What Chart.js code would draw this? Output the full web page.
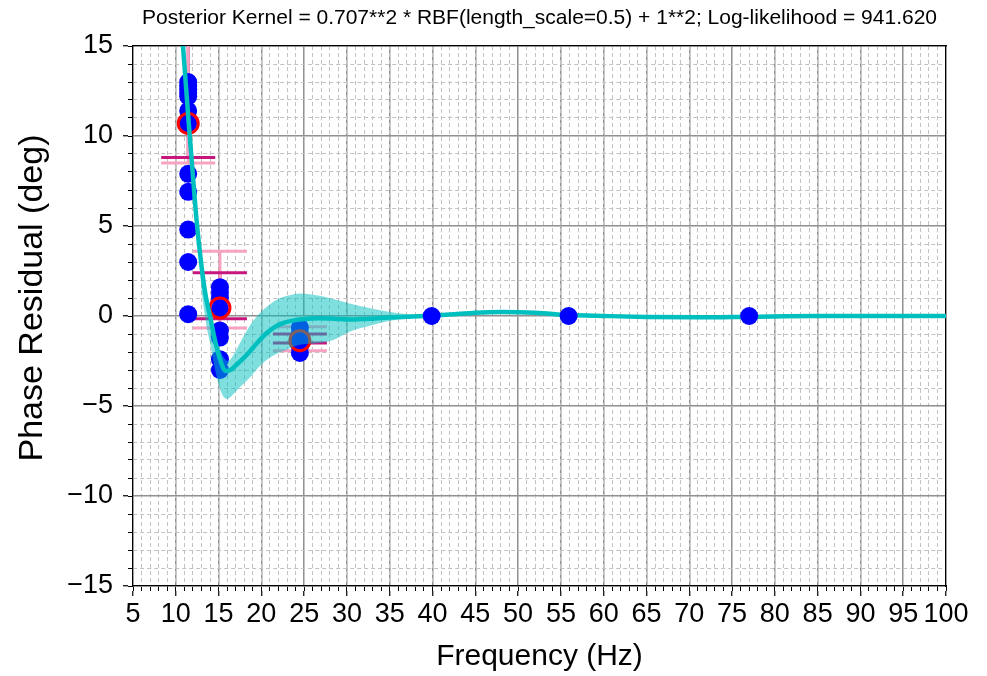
<!DOCTYPE html>
<html>
<head>
<meta charset="utf-8">
<script src="https://cdn.jsdelivr.net/npm/chart.js@4.4.1/dist/chart.umd.min.js"></script>
<style>
  html, body { margin: 0; padding: 0; background: #fff; }
  #wrap { width: 987px; height: 676px; }
</style>
</head>
<body>
<div id="wrap"><canvas id="chart" width="987" height="676"></canvas></div>
<script>
// measured residuals (blue dots)
const obsFreq  = [11.45, 11.45, 11.45, 11.45, 11.45, 11.45, 11.45, 11.45, 11.45, 11.45, 11.45, 11.45,
                  15.16, 15.16, 15.16, 15.16, 15.16, 15.16, 15.16, 15.16,
                  24.5, 24.5, 24.5, 24.5, 24.5];
const obsPhase = [13.0, 12.8, 12.6, 12.4, 12.2, 11.4, 10.7, 7.9, 6.9, 4.8, 3.0, 0.1,
                  1.6, 1.3, 1.0, 0.4, -0.8, -1.2, -2.4, -3.0,
                  -0.65, -1.0, -1.35, -1.7, -2.05];
const farFreq  = [39.9, 55.9, 77.0];
const farPhase = [0, 0, 0];

// per-frequency means (red circles) and error bars
const meanFreq  = [11.45, 15.16, 24.5];
const meanPhase = [10.7, 0.45, -1.37];
const pinkLow   = [8.5, -0.67, -1.93];
const pinkHigh  = [17.0, 3.6, -0.6];
const magLow    = [8.8, -0.15, -1.5];
const magHigh   = [16.0, 2.4, -1.0];

// GP posterior mean
const fitFreq = [10.5, 10.84, 11.2, 11.5, 12.0, 12.43, 13.0, 13.5, 14.0, 14.6, 15.2, 15.8, 16.4, 17.0,
                 17.8, 18.7, 19.5, 20.5, 21.6, 22.5, 23.5, 25.0, 26.8, 28.5, 30.3, 33.0, 36.0, 39.0,
                 42.0, 45.0, 48.0, 52.0, 56.0, 60.0, 65.0, 71.0, 77.0, 85.0, 92.0, 100.0];
const fitMean = [17.0, 15.0, 12.7, 10.8, 7.8, 5.3, 2.8, 1.1, 0.0, -1.4, -2.45, -3.05, -3.0, -2.75,
                 -2.4, -1.95, -1.5, -1.0, -0.6, -0.4, -0.27, -0.17, -0.12, -0.15, -0.2, -0.15, -0.05, 0.0,
                 0.08, 0.18, 0.22, 0.18, 0.05, 0.0, -0.05, -0.07, -0.04, 0.0, 0.0, 0.0];

// GP confidence band
const bandFreq  = [12.6, 13.0, 13.5, 14.0, 14.6, 15.2, 15.6, 16.1, 16.7, 17.5, 18.7, 19.5, 20.6, 21.8,
                   23.3, 24.5, 26.8, 28.4, 30.3, 33.0, 36.0, 38.0, 40.0, 42.0];
const bandUpper = [4.6, 2.3, 0.9, 0.1, -1.0, -1.9, -2.3, -2.5, -2.2, -1.5, -0.5, 0.0, 0.5, 0.9,
                   1.15, 1.25, 1.12, 0.95, 0.7, 0.4, 0.15, 0.07, 0.03, 0.05];
const bandLower = [4.0, 1.5, -0.3, -1.5, -3.0, -4.1, -4.5, -4.6, -4.35, -3.95, -3.4, -2.95, -2.45, -2.1,
                   -1.8, -1.6, -1.5, -1.33, -0.87, -0.5, -0.2, -0.12, -0.03, 0.03];

const xTicksStep = 5, yTicksStep = 5;

const titleText = 'Posterior Kernel = 0.707**2 * RBF(length_scale=0.5) + 1**2; Log-likelihood = 941.620';
const yLabel = 'Phase Residual (deg)';

const pts = (xs, ys) => xs.map((x, i) => ({x: x, y: ys[i]}));

const FONT = "'Liberation Sans', Arial, Helvetica, sans-serif";
Chart.defaults.font.family = FONT;
Chart.defaults.color = '#000';

const errorBars = {
  id: 'errorBars',
  beforeDatasetsDraw(chart) {
    const {ctx, chartArea: a, scales} = chart;
    const x = scales.x, y = scales.y;
    const cap = 27;
    ctx.save();
    ctx.beginPath();
    ctx.rect(a.left, a.top, a.right - a.left, a.bottom - a.top);
    ctx.clip();
    ctx.lineWidth = 3;
    const seg = (x1, y1, x2, y2, color) => {
      ctx.strokeStyle = color;
      ctx.beginPath(); ctx.moveTo(x1, y1); ctx.lineTo(x2, y2); ctx.stroke();
    };
    meanFreq.forEach((f, i) => {
      const px = x.getPixelForValue(f);
      seg(px, y.getPixelForValue(magLow[i]), px, y.getPixelForValue(magHigh[i]), '#c8167f');
      seg(px, y.getPixelForValue(pinkLow[i]), px, y.getPixelForValue(pinkHigh[i]), '#f6a3c1');
      [pinkLow[i], pinkHigh[i]].forEach(v => {
        const py = y.getPixelForValue(v);
        seg(px - cap, py, px + cap, py, '#f6a3c1');
      });
      [magLow[i], magHigh[i]].forEach(v => {
        const py = y.getPixelForValue(v);
        seg(px - cap, py, px + cap, py, '#c8167f');
      });
    });
    ctx.restore();
  }
};

// title centred over the plot area, y label placed like the original
const texts = {
  id: 'texts',
  afterDraw(chart) {
    const {ctx, chartArea: a} = chart;
    ctx.save();
    ctx.fillStyle = '#000';
    ctx.textAlign = 'center';
    ctx.textBaseline = 'middle';
    ctx.font = '21px ' + FONT;
    ctx.fillText(titleText, (a.left + a.right) / 2, a.top - 28);
    ctx.translate(33, (a.top + a.bottom) / 2 - 18);
    ctx.rotate(-Math.PI / 2);
    ctx.font = '34px ' + FONT;
    ctx.fillText(yLabel, 0, 0);
    ctx.restore();
  }
};

const minus = v => (v < 0 ? '\u2212' + Math.abs(v) : '' + v);

new Chart(document.getElementById('chart').getContext('2d'), {
  type: 'line',
  data: {
    datasets: [
      { // far points sit above the fit line
        data: pts(farFreq, farPhase), showLine: false, order: 0,
        pointRadius: 9, pointBackgroundColor: '#0000ff', pointBorderWidth: 0,
        xAxisID: 'x', yAxisID: 'y'
      },
      {
        data: pts(fitFreq, fitMean), order: 1, borderColor: '#00bfbf', borderWidth: 4.5,
        pointRadius: 0, cubicInterpolationMode: 'monotone', fill: false,
        xAxisID: 'x', yAxisID: 'y'
      },
      {
        data: pts(bandFreq, bandUpper), order: 2, borderWidth: 0, pointRadius: 0,
        cubicInterpolationMode: 'monotone', fill: '+1', backgroundColor: 'rgba(0,191,191,0.5)',
        xAxisID: 'x', yAxisID: 'y'
      },
      {
        data: pts(bandFreq, bandLower), order: 3, borderWidth: 0, pointRadius: 0,
        cubicInterpolationMode: 'monotone', fill: false,
        xAxisID: 'x', yAxisID: 'y'
      },
      {
        data: pts(meanFreq, meanPhase), showLine: false, order: 4,
        pointRadius: 10, pointBackgroundColor: 'rgba(0,0,0,0)', pointBorderColor: '#ff0000', pointBorderWidth: 3,
        xAxisID: 'x', yAxisID: 'y'
      },
      {
        data: pts(obsFreq, obsPhase), showLine: false, order: 5,
        pointRadius: 9, pointBackgroundColor: '#0000ff', pointBorderWidth: 0,
        xAxisID: 'x', yAxisID: 'y'
      }
    ]
  },
  options: {
    responsive: false,
    animation: false,
    layout: { padding: { left: 0, right: 41, top: 46, bottom: 0 } },
    plugins: {
      legend: { display: false },
      tooltip: { enabled: false },
      title: { display: false }
    },
    scales: {
      x: {
        type: 'linear', position: 'bottom', min: 5, max: 100, weight: 1,
        ticks: { stepSize: xTicksStep, autoSkip: false, maxRotation: 0, minRotation: 0,
                 font: { size: 27 }, padding: 2, color: '#000' },
        grid: { color: '#919191', lineWidth: 1.5, tickLength: 5, tickColor: '#000', tickWidth: 1.2 },
        border: { display: false },
        title: { display: true, text: 'Frequency (Hz)', font: { size: 30 }, padding: { top: 0, bottom: 1 } },
        afterFit: s => { s.height = 85; }
      },
      xMinor: {
        type: 'linear', position: 'bottom', min: 5, max: 100, weight: 0,
        ticks: { display: false, stepSize: 1, autoSkip: false, maxTicksLimit: 200 },
        grid: { color: '#c2c2c2', lineWidth: 1, tickLength: 5, tickColor: '#000', tickWidth: 1 },
        border: { display: true, color: '#000', width: 1.2, dash: [4, 3] }
      },
      xTop: {
        type: 'linear', position: 'top', min: 5, max: 100,
        ticks: { display: false },
        grid: { drawOnChartArea: false, drawTicks: false },
        border: { display: true, color: '#000', width: 1.2 }
      },
      y: {
        type: 'linear', position: 'left', min: -15, max: 15, weight: 1,
        ticks: { stepSize: yTicksStep, font: { size: 27 }, padding: 10, color: '#000', callback: v => minus(v) },
        grid: { color: '#919191', lineWidth: 1.5, tickLength: 5, tickColor: '#000', tickWidth: 1.2 },
        border: { display: false },
        afterFit: s => { s.width = 128; }
      },
      yMinor: {
        type: 'linear', position: 'left', min: -15, max: 15, weight: 0,
        ticks: { display: false, stepSize: 1, maxTicksLimit: 200 },
        grid: { color: '#c2c2c2', lineWidth: 1, tickLength: 5, tickColor: '#000', tickWidth: 1 },
        border: { display: true, color: '#000', width: 1.2, dash: [4, 3] }
      },
      yRight: {
        type: 'linear', position: 'right', min: -15, max: 15,
        ticks: { display: false },
        grid: { drawOnChartArea: false, drawTicks: false },
        border: { display: true, color: '#000', width: 1.2 }
      }
    }
  },
  plugins: [errorBars, texts]
});
</script>
</body>
</html>
